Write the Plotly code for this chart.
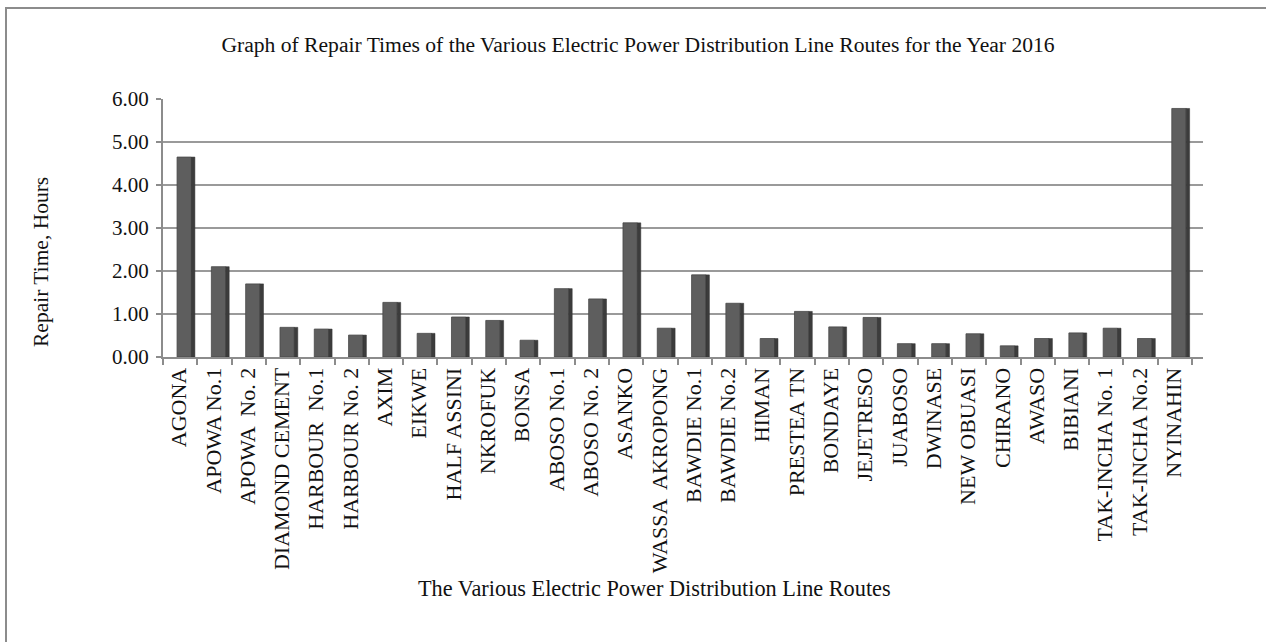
import plotly.graph_objects as go

routes = ["AGONA", "APOWA No.1", "APOWA  No. 2", "DIAMOND CEMENT", "HARBOUR  No.1",
          "HARBOUR No. 2", "AXIM", "EIKWE", "HALF ASSINI", "NKROFUK", "BONSA",
          "ABOSO No.1", "ABOSO No. 2", "ASANKO", "WASSA  AKROPONG", "BAWDIE No.1",
          "BAWDIE No.2", "HIMAN", "PRESTEA TN", "BONDAYE", "JEJETRESO", "JUABOSO",
          "DWINASE", "NEW OBUASI", "CHIRANO", "AWASO", "BIBIANI", "TAK-INCHA No. 1",
          "TAK-INCHA No.2", "NYINAHIN"]
repair_hours = [4.65, 2.10, 1.70, 0.69, 0.65, 0.51, 1.27, 0.55, 0.93, 0.85, 0.39,
                1.59, 1.35, 3.12, 0.67, 1.91, 1.25, 0.43, 1.06, 0.70, 0.92, 0.31,
                0.31, 0.54, 0.26, 0.43, 0.56, 0.67, 0.43, 5.78]
y_ticks = [0, 1, 2, 3, 4, 5, 6]
y_tick_text = ["0.00", "1.00", "2.00", "3.00", "4.00", "5.00", "6.00"]

W, H = 1266, 642
L, R, T, B = 163, 1203, 99, 357
FONT = "Liberation Serif, Times New Roman, serif"


def px(x):
    return (x - L) / (R - L)


def py(y):
    return (B - y) / (B - T)


fig = go.Figure()
fig.add_trace(go.Bar(x=routes, y=repair_hours, offset=-0.09, width=0.42,
                     marker=dict(color="#5e5e5e", line=dict(color="#474747", width=0.8)),
                     hoverinfo="x+y", showlegend=False))
fig.add_trace(go.Bar(x=routes, y=repair_hours, offset=0.33, width=0.1,
                     marker=dict(color="#3c3c3c", line=dict(color="#333333", width=0.5)),
                     hoverinfo="skip", showlegend=False))

fig.update_layout(
    width=W, height=H,
    margin=dict(l=L, r=W - R, t=T, b=H - B, pad=0),
    paper_bgcolor="white", plot_bgcolor="white",
    barmode="overlay",
    font=dict(family=FONT, size=21, color="#111111"),
    title=dict(text="Graph of Repair Times of the Various Electric Power Distribution Line Routes for the Year 2016",
               x=638 / W, xanchor="center", y=1 - 44 / H, yanchor="middle",
               font=dict(family=FONT, size=21.6, color="#111111")),
    xaxis=dict(type="category", range=[-0.5, 29.82], tickson="boundaries",
               ticks="outside", ticklen=6, tickcolor="#8c8c8c", tickwidth=2,
               showline=True, linecolor="#8c8c8c", linewidth=2,
               tickangle=-90, showgrid=False, ticklabelshift=-1,
               tickfont=dict(family=FONT, size=22, color="#111111")),
    yaxis=dict(range=[0, 6], tickvals=y_ticks, ticktext=y_tick_text,
               ticks="outside", ticklen=5, tickcolor="#8c8c8c", tickwidth=2,
               showline=True, linecolor="#8c8c8c", linewidth=2,
               showgrid=True, gridcolor="#9a9a9a", gridwidth=2, zeroline=False,
               ticklabelstandoff=3,
               tickfont=dict(family=FONT, size=21, color="#111111")),
    annotations=[
        dict(text="Repair Time, Hours", textangle=-90, xref="paper", yref="paper",
             x=px(41), y=py(262), xanchor="center", yanchor="middle", showarrow=False,
             font=dict(family=FONT, size=21.5, color="#111111")),
        dict(text="The Various Electric Power Distribution Line Routes", xref="paper", yref="paper",
             x=px(654), y=py(588), xanchor="center", yanchor="middle", showarrow=False,
             font=dict(family=FONT, size=22.3, color="#111111")),
    ],
    shapes=[
        dict(type="rect", xref="paper", yref="paper", x0=px(6), x1=px(1272), y0=py(660), y1=py(8),
             line=dict(color="#8c8c8c", width=2), fillcolor="rgba(0,0,0,0)", layer="below"),
    ],
)

fig.write_html("out.html", config={"displayModeBar": False},
               post_script="document.body.style.margin='0';document.body.style.overflow='hidden';")
